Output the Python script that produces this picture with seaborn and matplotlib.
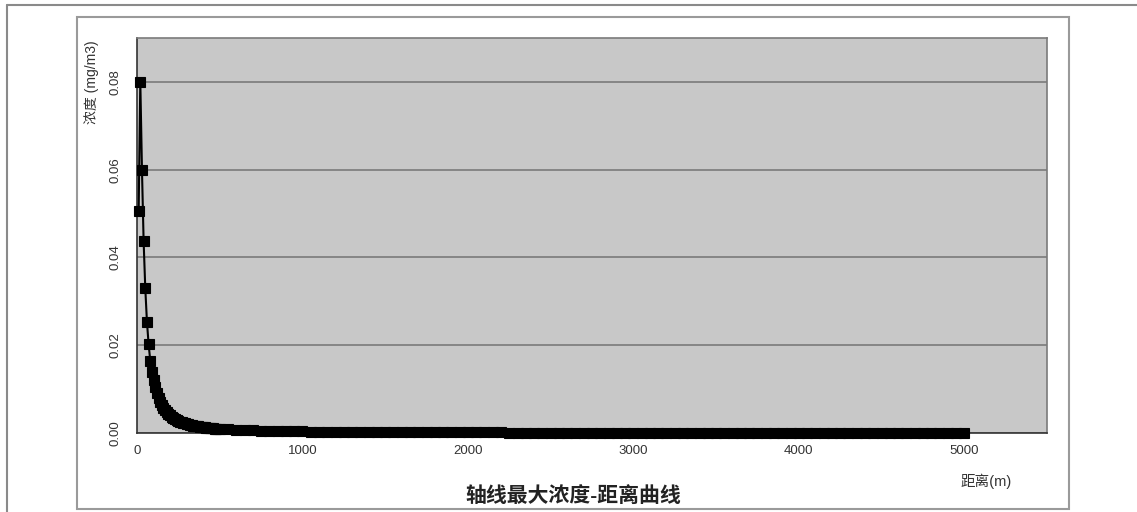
import numpy as np
import pandas as pd
import matplotlib
matplotlib.use("Agg")
import matplotlib.pyplot as plt
from matplotlib.patches import Rectangle
from matplotlib.lines import Line2D
import seaborn as sns

# distances (m) and axis max concentration (mg/m3)
near_dist = list(range(10, 501, 10))
near_conc = [0.0505, 0.0800, 0.0600, 0.0437, 0.0330, 0.0254, 0.0203, 0.0165, 0.0140, 0.0120,
             0.0104, 0.0091, 0.0080, 0.0071, 0.0064, 0.0058, 0.0053, 0.0048, 0.0044, 0.0040,
             0.0037, 0.0034, 0.0032, 0.0030, 0.0028, 0.0026, 0.0025, 0.0023, 0.0022, 0.0021,
             0.0020, 0.0019, 0.0018, 0.0017, 0.0016, 0.0016, 0.0015, 0.0014, 0.0014, 0.0013,
             0.0013, 0.0012, 0.0012, 0.0011, 0.0011, 0.0011, 0.0010, 0.0010, 0.0010, 0.0009]

tail_dist = list(range(550, 5001, 50))
tail_conc = [0.00085, 0.00076, 0.00068, 0.00061, 0.00055, 0.00050, 0.00046, 0.00042, 0.00039, 0.00036,
             0.00034, 0.00032, 0.00030, 0.00028, 0.00026, 0.00025, 0.00024, 0.00022, 0.00021, 0.00020,
             0.00019, 0.00018, 0.00018, 0.00017, 0.00016, 0.00016, 0.00015, 0.00014, 0.00014, 0.00013,
             0.00013, 0.00012, 0.00012, 0.00012, 0.00011, 0.00011, 0.00011, 0.00010, 0.00010, 0.00010,
             0.000095, 0.000093, 0.000090, 0.000088, 0.000086, 0.000084, 0.000082, 0.000080, 0.000078, 0.000076,
             0.000074, 0.000072, 0.000070, 0.000069, 0.000067, 0.000066, 0.000064, 0.000063, 0.000062, 0.000060,
             0.000059, 0.000058, 0.000057, 0.000056, 0.000055, 0.000054, 0.000053, 0.000052, 0.000051, 0.000050,
             0.000049, 0.000048, 0.000047, 0.000046, 0.000046, 0.000045, 0.000044, 0.000043, 0.000043, 0.000042,
             0.000041, 0.000041, 0.000040, 0.000039, 0.000039, 0.000038, 0.000038, 0.000037, 0.000037, 0.000036]

x_ticks = [0, 1000, 2000, 3000, 4000, 5000]
y_ticks = [0.0, 0.02, 0.04, 0.06, 0.08]

title = "轴线最大浓度-距离曲线"
xlabel = "距离(m)"
ylabel = "浓度 (mg/m3)"

df = pd.DataFrame({"dist": near_dist + tail_dist, "conc": near_conc + tail_conc})

sns.set_style("white")
plt.rcParams["font.family"] = ["Liberation Sans", "Noto Sans CJK SC", "DejaVu Sans"]

W, H = 1137, 512
fig = plt.figure(figsize=(W / 100, H / 100), dpi=100)
fig.patch.set_facecolor("white")

# plot area in pixels: left 137, right 1047, top 38, bottom 433
ax = fig.add_axes([137 / W, 1 - 433 / H, (1047 - 137) / W, (433 - 38) / H])
ax.set_facecolor("#c8c8c8")

sns.lineplot(data=df, x="dist", y="conc", ax=ax, color="black", linewidth=1.5,
             marker="s", markersize=6.5, markeredgecolor="black", markeredgewidth=0.8,
             estimator=None, zorder=3, clip_on=False)

ax.set_xlim(0, 5500)
ax.set_ylim(0, 0.09)
ax.set_xticks(x_ticks)
ax.set_yticks(y_ticks)
ax.set_yticklabels([f"{v:.2f}" for v in y_ticks])
ax.set_xlabel("")
ax.set_ylabel("")
ax.yaxis.grid(True, color="#7a7a7a", linewidth=1.2)
ax.xaxis.grid(False)
ax.set_axisbelow(True)

ax.tick_params(axis="both", direction="out", length=5, width=1, color="#333333",
               labelsize=9.5, labelcolor="#333333")
ax.tick_params(axis="y", labelrotation=90, pad=6)
ax.tick_params(axis="x", pad=4)
for lab in ax.get_yticklabels():
    lab.set_va("center")

ax.spines["left"].set_color("#333333")
ax.spines["bottom"].set_color("#333333")
ax.spines["top"].set_color("#7a7a7a")
ax.spines["right"].set_color("#7a7a7a")
for s in ax.spines.values():
    s.set_linewidth(1.2)

# outer frame and chart area frame
fig.add_artist(Line2D([7 / W, 1], [1 - 5 / H, 1 - 5 / H], transform=fig.transFigure,
                      color="#8a8a8a", linewidth=1.5))
fig.add_artist(Line2D([7 / W, 7 / W], [0, 1 - 5 / H], transform=fig.transFigure,
                      color="#8a8a8a", linewidth=1.5))
fig.add_artist(Rectangle((77 / W, 1 - 509 / H), (1069 - 77) / W, (509 - 17) / H,
                         transform=fig.transFigure, fill=False, edgecolor="#9a9a9a",
                         linewidth=1.5))

fig.text(92 / W, 1 - 82 / H, ylabel, rotation=90, ha="center", va="center",
         fontsize=10, color="#333333")
fig.text(986 / W, 1 - 481 / H, xlabel, ha="center", va="center",
         fontsize=10.5, color="#333333")
fig.text(573 / W, 1 - 497 / H, title, ha="center", va="center",
         fontsize=15, fontweight="bold", color="#222222")

fig.savefig("out.png", dpi=100)
